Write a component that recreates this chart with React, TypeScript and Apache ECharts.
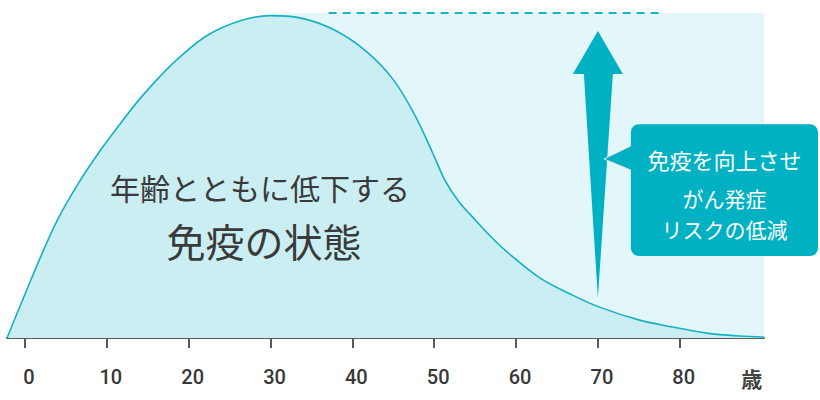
import React, { useEffect, useRef } from 'react';
import * as echarts from 'echarts';

// curve: age (years) vs. immune level (0-100)
const ages = [
    -2.2, 0, 2, 4, 6.5, 9, 11.5, 14, 16.5, 18.5, 22.2, 26.3, 29.9, 33.6, 37.7, 41.7, 45, 47.6, 49.8,
    51.3, 53, 54.7, 57, 58.9, 62.9, 66.9, 70.2, 75.1, 79.1, 83.3, 87.3, 90.3,
];
const immunity = [
    0, 13.5, 25.5, 36.5, 47.5, 57, 65.5, 73.5, 80.5, 85.5, 93, 97.6, 99.2, 98.5, 94.9, 88.2, 79.5, 68.7, 57,
    48.6, 42, 37.2, 31, 26.5, 18.5, 13.2, 9.5, 5.5, 3.4, 1.5, 0.6, 0.3,
];

const tickAges = [0, 10, 20, 30, 40, 50, 60, 70, 80];
const unitLabel = '歳';
const unitAge = 88.3;

const ageMin = -2.2;
const ageMax = 90.3;

// shaded "improved" region and dashed target line
const shadeFrom = 30;
const targetLevel = 100;
const targetFrom = 37.1;
const targetTo = 77.7;

// arrow
const arrowAge = 70;
const arrowTip = 12.3;
const arrowTop = 94.5;
const arrowHeadBase = 81.2;

const mainLine1 = '年齢とともに低下する';
const mainLine2 = '免疫の状態';
const calloutTitle = '免疫を向上させ';
const calloutBody = ['がん発症', 'リスクの低減'];

const TEAL = '#00b1c4';
const JP = "'Noto Sans CJK JP', sans-serif";

export default function App() {
    const chartRef = useRef<HTMLDivElement>(null);

    useEffect(() => {
        if (!chartRef.current) return;
        const chart = echarts.init(chartRef.current, undefined, { renderer: 'svg' });

        const tickAxis = (inside: boolean, showLine: boolean) => ({
            type: 'value' as const,
            min: ageMin,
            max: ageMax,
            position: 'bottom' as const,
            offset: 10,
            splitLine: { show: false },
            axisLine: { show: showLine, lineStyle: { color: '#5a5a5a', width: 2 } },
            axisTick: {
                show: true,
                inside,
                length: 6,
                customValues: tickAges,
                lineStyle: { color: '#5a5a5a', width: 2 },
            },
            axisLabel: { show: false },
        });

        chart.setOption({
            animation: false,
            grid: { left: 7, right: 56, top: 13, bottom: 62 },
            xAxis: [
                {
                    ...tickAxis(false, true),
                    axisLabel: {
                        show: true,
                        customValues: [...tickAges, unitAge],
                        margin: 19,
                        padding: [0, 0, 0, 8],
                        formatter: (v: number) => (v > 85 ? `{u|${unitLabel}}` : `{n|${v}}`),
                        rich: {
                            n: {
                                fontFamily: 'Roboto, sans-serif',
                                fontSize: 20,
                                fontWeight: 500,
                                color: '#383838',
                            },
                            u: {
                                fontFamily: JP,
                                fontSize: 21,
                                fontWeight: 'bold',
                                color: '#444',
                            },
                        },
                    },
                },
                tickAxis(true, false),
            ],
            yAxis: { type: 'value', min: 0, max: 100, show: false },
            series: [
                {
                    type: 'line',
                    z: 1,
                    data: [],
                    markArea: {
                        silent: true,
                        itemStyle: { color: '#e3f6f9' },
                        data: [[{ coord: [shadeFrom, 0] }, { coord: [ageMax, targetLevel] }]],
                    },
                    markLine: {
                        silent: true,
                        symbol: 'none',
                        label: { show: false },
                        lineStyle: { color: '#1cb3c5', width: 2, type: [8, 6] },
                        data: [[{ coord: [targetFrom, targetLevel] }, { coord: [targetTo, targetLevel] }]],
                    },
                },
                {
                    type: 'line',
                    z: 3,
                    smooth: 0.35,
                    symbol: 'none',
                    data: ages.map((a, i) => [a, immunity[i]]),
                    lineStyle: { color: '#16b0c3', width: 1.6 },
                    areaStyle: { color: '#cbeef2', opacity: 1 },
                },
            ],
        });

        const p = (a: number, v: number) =>
            chart.convertToPixel({ xAxisIndex: 0, yAxisIndex: 0 }, [a, v]) as number[];

        const [ax, tipY] = p(arrowAge, arrowTip);
        const topY = p(arrowAge, arrowTop)[1];
        const baseY = p(arrowAge, arrowHeadBase)[1];

        const boxL = ax + 33;
        const boxR = 818;
        const boxT = p(arrowAge, 65.8)[1];
        const boxB = p(arrowAge, 25.2)[1];
        const ptrY = p(arrowAge, 55.1)[1];
        const boxCx = (boxL + boxR) / 2;

        const t1 = p(28.7, 46.5);
        const t2 = p(29.2, 30.2);

        chart.setOption({
            graphic: [
                {
                    type: 'polygon',
                    z: 10,
                    shape: {
                        points: [
                            [ax, tipY],
                            [ax - 14, baseY],
                            [ax - 25, baseY],
                            [ax, topY],
                            [ax + 25, baseY],
                            [ax + 15, baseY],
                        ],
                    },
                    style: { fill: TEAL },
                },
                {
                    type: 'polygon',
                    z: 10,
                    shape: {
                        points: [
                            [ax + 6, ptrY],
                            [boxL + 2, ptrY - 14],
                            [boxL + 2, ptrY + 12],
                        ],
                    },
                    style: { fill: TEAL, stroke: '#e8e8e8', lineWidth: 1 },
                },
                {
                    type: 'rect',
                    z: 11,
                    shape: { x: boxL, y: boxT, width: boxR - boxL, height: boxB - boxT, r: 8 },
                    style: { fill: TEAL },
                },
                {
                    type: 'text',
                    z: 12,
                    x: boxCx,
                    y: ptrY,
                    style: {
                        text: calloutTitle,
                        fill: '#fff',
                        font: `22px ${JP}`,
                        align: 'center',
                        verticalAlign: 'middle',
                    },
                },
                {
                    type: 'text',
                    z: 12,
                    x: boxCx,
                    y: ptrY + 39,
                    style: {
                        text: calloutBody[0],
                        fill: '#fff',
                        font: `21px ${JP}`,
                        align: 'center',
                        verticalAlign: 'middle',
                    },
                },
                {
                    type: 'text',
                    z: 12,
                    x: boxCx,
                    y: ptrY + 70,
                    style: {
                        text: calloutBody[1],
                        fill: '#fff',
                        font: `21px ${JP}`,
                        align: 'center',
                        verticalAlign: 'middle',
                    },
                },
                {
                    type: 'text',
                    z: 12,
                    x: t1[0],
                    y: t1[1],
                    style: {
                        text: mainLine1,
                        fill: '#3a3a3a',
                        font: `30px ${JP}`,
                        align: 'center',
                        verticalAlign: 'middle',
                    },
                },
                {
                    type: 'text',
                    z: 12,
                    x: t2[0],
                    y: t2[1],
                    style: {
                        text: mainLine2,
                        fill: '#3a3a3a',
                        font: `39px ${JP}`,
                        align: 'center',
                        verticalAlign: 'middle',
                    },
                },
            ],
        });

        return () => chart.dispose();
    }, []);

    return (
        <div
            ref={chartRef}
            style={{ position: 'absolute', left: 0, top: 0, width: 820, height: 400 }}
        />
    );
}
